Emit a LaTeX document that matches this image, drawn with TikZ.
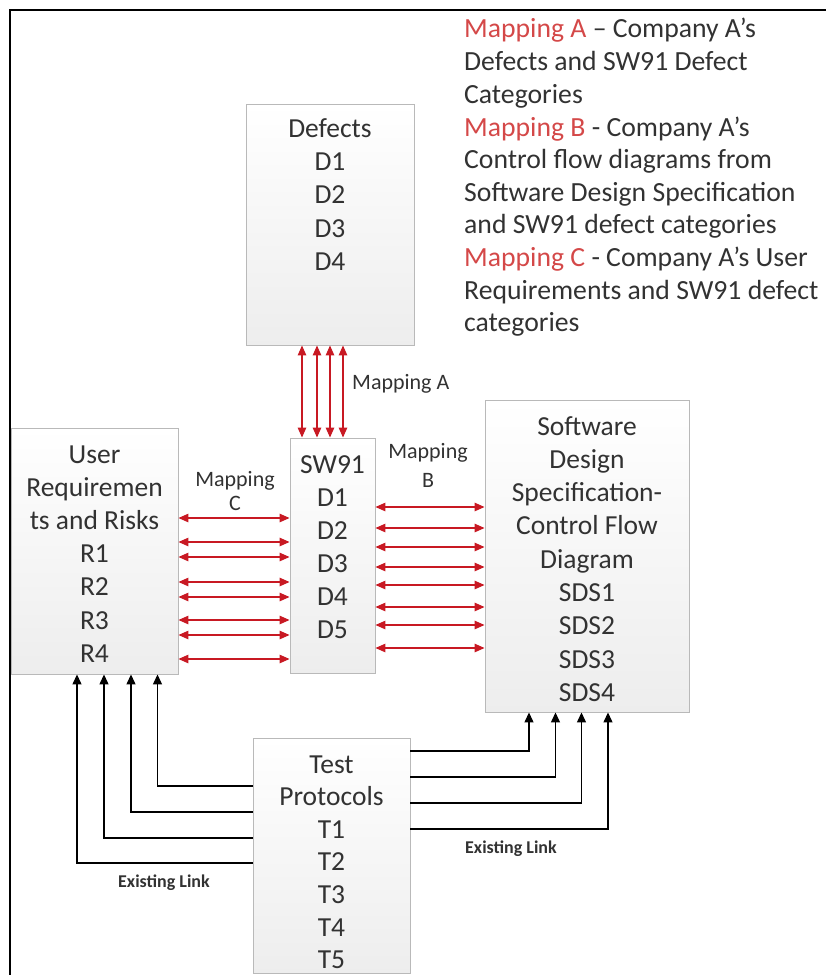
\documentclass[tikz,border=0pt]{standalone}
\usepackage{fontspec}
\setmainfont{Carlito}
\usetikzlibrary{arrows.meta}
\definecolor{arrred}{RGB}{200,25,35}
\definecolor{legred}{RGB}{212,72,72}
\definecolor{txtgray}{RGB}{50,50,50}
\begin{document}
\begin{tikzpicture}[x=1pt,y=-1pt,
  box/.style={draw=gray!55, line width=0.9pt, top color=white, bottom color=gray!14, inner sep=0pt},
  boxtxt/.style={anchor=base, font=\fontsize{27.5}{33}\selectfont, text=txtgray, inner sep=0pt},
  legtxt/.style={anchor=base west, font=\fontsize{27.7}{33}\selectfont, text=txtgray, inner sep=0pt},
  maptxt/.style={anchor=base, font=\fontsize{22}{26}\selectfont, text=txtgray, inner sep=0pt},
  linktxt/.style={anchor=center, font=\bfseries\fontsize{18}{22}\selectfont, text=txtgray, inner sep=0pt},
  ra/.style={draw=arrred, line width=1.3pt, arrows={Triangle[length=10pt,width=8.5pt]-Triangle[length=10pt,width=8.5pt]}},
  ba/.style={draw=black, line width=1.3pt, arrows={-Triangle[length=10pt,width=9pt]}},
  frameline/.style={draw=black, line width=1.5pt}
]
\useasboundingbox (0,0) rectangle (826,975);
% frame
\coordinate (FL) at (10,975);
\coordinate (FC) at (10,10);
\coordinate (FR) at (826,10);
\draw[frameline] (FL) -- (FC) -- (FR);

% boxes
\node[box, minimum width=168pt, minimum height=241pt] (D) at (330,224.5) {};
\node[box, minimum width=85pt, minimum height=235pt] (SW) at (332.5,555.5) {};
\node[box, minimum width=167pt, minimum height=246pt] (UR) at (94.5,551) {};
\node[box, minimum width=204pt, minimum height=312pt] (SDS) at (587,556) {};
\node[box, minimum width=157pt, minimum height=235pt] (TP) at (331.5,855.5) {};

% box texts
\foreach \t [count=\i] in {Defects,D1,D2,D3,D4}
  \node[boxtxt] (Dt\i) at (330,{137.5+33.2*(\i-1)}) {\t};
\foreach \t [count=\i] in {SW91,D1,D2,D3,D4,D5}
  \node[boxtxt] (SWt\i) at (332.5,{473+33*(\i-1)}) {\t};
\foreach \t [count=\i] in {User,Requiremen,ts and Risks,R1,R2,R3,R4}
  \node[boxtxt] (URt\i) at (94.5,{463+33.2*(\i-1)}) {\t};
\foreach \t [count=\i] in {Software,Design,Specification-,Control Flow,Diagram,SDS1,SDS2,SDS3,SDS4}
  \node[boxtxt] (SDSt\i) at (587,{435+33.3*(\i-1)}) {\t};
\foreach \t [count=\i] in {Test,Protocols,T1,T2,T3,T4,T5}
  \node[boxtxt] (TPt\i) at (331.5,{773+32.6*(\i-1)}) {\t};

% legend
\node[legtxt] (L1) at (464,37) {\textcolor{legred}{Mapping A} – Company A’s};
\node[legtxt] (L2) at (464,70) {Defects and SW91 Defect};
\node[legtxt] (L3) at (464,103) {Categories};
\node[legtxt] (L4) at (464,136) {\textcolor{legred}{Mapping B} - Company A’s};
\node[legtxt] (L5) at (464,168) {Control flow diagrams from};
\node[legtxt] (L6) at (464,201) {Software Design Specification};
\node[legtxt] (L7) at (464,233) {and SW91 defect categories};
\node[legtxt] (L8) at (464,266) {\textcolor{legred}{Mapping C} - Company A’s User};
\node[legtxt] (L9) at (464,299) {Requirements and SW91 defect};
\node[legtxt] (L10) at (464,331) {categories};

% mapping labels
\node[maptxt, anchor=base west] (MA) at (352,389) {Mapping A};
\node[maptxt] (MC1) at (235,486) {Mapping};
\node[maptxt] (MC2) at (235,510) {C};
\node[maptxt] (MB1) at (428,458) {Mapping};
\node[maptxt] (MB2) at (428,487) {B};

% Mapping A arrows
\foreach \x in {302,317,330,343}
  \draw[ra] (\x,0 |- D.south) -- (\x,0 |- SW.north);
% Mapping C arrows
\foreach \y in {518,542,557,582,597,620,635,659}
  \draw[ra] (UR.east |- 0,\y) -- (SW.west |- 0,\y);
% Mapping B arrows
\foreach \y in {507,528,547,567,585,607,625,648}
  \draw[ra] (SW.east |- 0,\y) -- (SDS.west |- 0,\y);

% existing links to user requirements
\draw[ba] (TP.west |- 0,786) -| (157.5,0 |- UR.south);
\draw[ba] (TP.west |- 0,812) -| (131,0 |- UR.south);
\draw[ba] (TP.west |- 0,838) -| (104,0 |- UR.south);
\draw[ba] (TP.west |- 0,863) -| (77,0 |- UR.south);
% existing links to SDS
\draw[ba] (TP.east |- 0,751) -| (529,0 |- SDS.south);
\draw[ba] (TP.east |- 0,777) -| (555.5,0 |- SDS.south);
\draw[ba] (TP.east |- 0,803) -| (581.5,0 |- SDS.south);
\draw[ba] (TP.east |- 0,829) -| (608,0 |- SDS.south);

\node[linktxt] (EL1) at (164,883) {Existing Link};
\node[linktxt] (EL2) at (511,849) {Existing Link};
\end{tikzpicture}
\end{document}
